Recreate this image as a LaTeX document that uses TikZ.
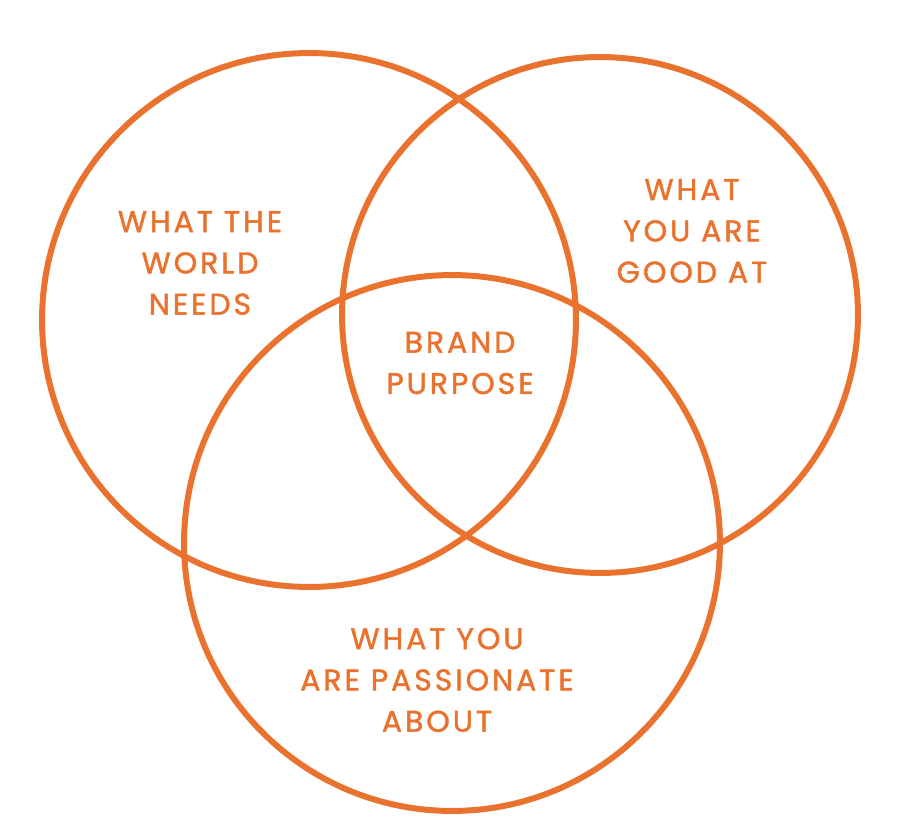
\documentclass[tikz,border=0pt]{standalone}
\usepackage{fontspec}
\setmainfont{Poppins}[LetterSpace=10, FakeBold=1.5]
\usepackage{tikz}
\definecolor{brandorange}{HTML}{E8722E}

\begin{document}
\begin{tikzpicture}[
    x=0.02cm, y=-0.02cm,
    ring/.style={draw=brandorange, line width=3.4pt, circle, inner sep=0pt},
    label/.style={text=brandorange, align=center, font=\fontsize{17}{23.5}\selectfont}
]
    \useasboundingbox (0,0) rectangle (917,829);

    \node[ring, minimum size=10.68cm] (world) at (309,320) {};
    \node[ring, minimum size=10.32cm] (good) at (600,315) {};
    \node[ring, minimum size=10.72cm] (passion) at (452,543) {};

    \node[label] (worldtext) at (200,263) {WHAT THE\\WORLD\\NEEDS};
    \node[label] (goodtext) at (692,231) {WHAT\\YOU ARE\\GOOD AT};
    \node[label] (brandtext) at (460,363) {BRAND\\PURPOSE};
    \node[label] (passiontext) at (437,680) {WHAT YOU\\ARE PASSIONATE\\ABOUT};
\end{tikzpicture}
\end{document}
